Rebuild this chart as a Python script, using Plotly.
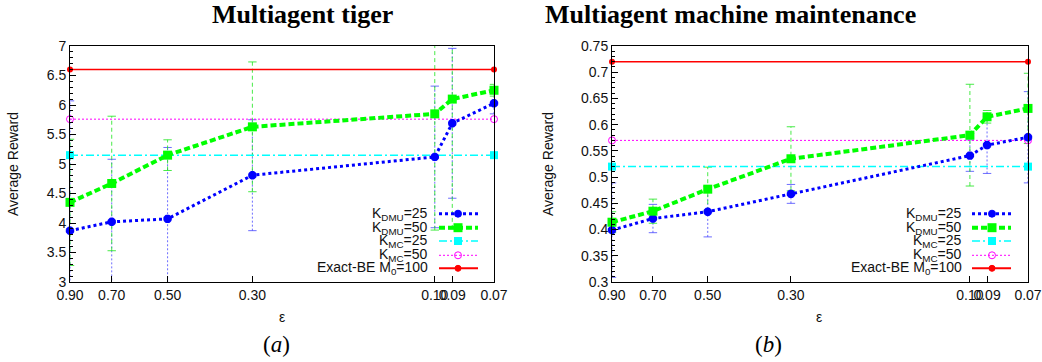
import math
import plotly.graph_objects as go

# ---------------- data ----------------
eps = [0.90, 0.70, 0.50, 0.30, 0.10, 0.09, 0.07]
eps_labels = ["0.90", "0.70", "0.50", "0.30", "0.10", "0.09", "0.07"]

tiger_dmu25 = [3.87, 4.02, 4.07, 4.81, 5.12, 5.69, 6.03]
tiger_dmu25_err = [2.20, 1.06, 1.21, 0.94, 1.20, 1.27, 0.18]
tiger_dmu50 = [4.35, 4.67, 5.15, 5.63, 5.85, 6.10, 6.25]
tiger_dmu50_err = [1.07, 1.14, 0.26, 1.10, 1.97, 2.20, 0.10]
tiger_mc25 = 5.15
tiger_mc50 = 5.76
tiger_exact = 6.60

mm_dmu25 = [0.399, 0.421, 0.434, 0.468, 0.541, 0.561, 0.576]
mm_dmu25_err = [0.090, 0.027, 0.048, 0.018, 0.030, 0.054, 0.087]
mm_dmu50 = [0.414, 0.435, 0.477, 0.535, 0.580, 0.615, 0.631]
mm_dmu50_err = [0.020, 0.023, 0.042, 0.061, 0.097, 0.012, 0.067]
mm_mc25 = 0.52
mm_mc50 = 0.57
mm_exact = 0.72

tiger_yticks = [3, 3.5, 4, 4.5, 5, 5.5, 6, 6.5, 7]
tiger_ytext = ["3", "3.5", "4", "4.5", "5", "5.5", "6", "6.5", "7"]
mm_yticks = [0.3, 0.35, 0.4, 0.45, 0.5, 0.55, 0.6, 0.65, 0.7, 0.75]
mm_ytext = ["0.3", "0.35", "0.4", "0.45", "0.5", "0.55", "0.6", "0.65", "0.7", "0.75"]

legend_labels = ["K<sub>DMU</sub>=25", "K<sub>DMU</sub>=50", "K<sub>MC</sub>=25",
                 "K<sub>MC</sub>=50", "Exact-BE M<sub>0</sub>=100"]
titles = ["<b>Multiagent tiger</b>", "<b>Multiagent machine maintenance</b>"]
captions = ["(<i>a</i>)", "(<i>b</i>)"]

# ---------------- geometry ----------------
W, H = 1042, 362
def px(x):
    return x / W
def py(y):
    return 1 - y / H

BLUE = "#0000ff"
GREEN = "#00ff00"
CYAN = "#00ffff"
MAGENTA = "#ff00ff"
RED = "#ff0000"
SANS = "Liberation Sans"
SERIF = "Liberation Serif"
FS = 14

fig = go.Figure()

def err_segments(xs, ys, es):
    X, Y = [], []
    for x, y, e in zip(xs, ys, es):
        X += [x, x, None]
        Y += [y - e, y + e, None]
    return X, Y

def add_panel(xa, ya, d25, e25, d50, e50, mc25, mc50, exact):
    # error bars
    X, Y = err_segments(eps, d25, e25)
    fig.add_trace(go.Scatter(x=X, y=Y, xaxis=xa, yaxis=ya, mode="lines+markers",
                             line=dict(color="rgba(60,60,255,0.75)", width=1, dash="2px,2px"),
                             marker=dict(symbol="line-ew-open", size=6,
                                         line=dict(color="rgba(60,60,255,0.75)", width=1)),
                             showlegend=False, hoverinfo="skip"))
    X, Y = err_segments(eps, d50, e50)
    fig.add_trace(go.Scatter(x=X, y=Y, xaxis=xa, yaxis=ya, mode="lines+markers",
                             line=dict(color="rgba(40,230,40,0.85)", width=1, dash="4px,3px"),
                             marker=dict(symbol="line-ew-open", size=6,
                                         line=dict(color="rgba(40,230,40,0.85)", width=1)),
                             showlegend=False, hoverinfo="skip"))
    ends = [eps[0], eps[-1]]
    # horizontal reference lines
    fig.add_trace(go.Scatter(x=ends, y=[mc25, mc25], xaxis=xa, yaxis=ya, mode="lines+markers",
                             line=dict(color=CYAN, width=1.5, dash="8px,3px,2px,3px"),
                             marker=dict(symbol="square", size=8, color=CYAN),
                             cliponaxis=False, showlegend=False))
    fig.add_trace(go.Scatter(x=ends, y=[mc50, mc50], xaxis=xa, yaxis=ya, mode="lines+markers",
                             line=dict(color=MAGENTA, width=1, dash="2px,2px"),
                             marker=dict(symbol="circle-open", size=7, color=MAGENTA,
                                         line=dict(width=1, color=MAGENTA)),
                             cliponaxis=False, showlegend=False))
    fig.add_trace(go.Scatter(x=ends, y=[exact, exact], xaxis=xa, yaxis=ya, mode="lines+markers",
                             line=dict(color=RED, width=1.5),
                             marker=dict(symbol="circle", size=6, color=RED),
                             cliponaxis=False, showlegend=False))
    # main series
    fig.add_trace(go.Scatter(x=eps, y=d25, xaxis=xa, yaxis=ya, mode="lines+markers",
                             line=dict(color=BLUE, width=3, dash="3px,3px"),
                             marker=dict(symbol="asterisk-open", size=7,
                                         line=dict(color=BLUE, width=3)),
                             cliponaxis=False, showlegend=False))
    fig.add_trace(go.Scatter(x=eps, y=d50, xaxis=xa, yaxis=ya, mode="lines+markers",
                             line=dict(color=GREEN, width=4, dash="6px,3px"),
                             marker=dict(symbol="square", size=9, color=GREEN),
                             cliponaxis=False, showlegend=False))

add_panel("x", "y", tiger_dmu25, tiger_dmu25_err, tiger_dmu50, tiger_dmu50_err,
          tiger_mc25, tiger_mc50, tiger_exact)
add_panel("x2", "y2", mm_dmu25, mm_dmu25_err, mm_dmu50, mm_dmu50_err,
          mm_mc25, mm_mc50, mm_exact)

xrange_log = [math.log10(eps[0]), math.log10(eps[-1])]

def xaxis(domain, anchor):
    return dict(domain=domain, anchor=anchor, type="log", range=xrange_log,
                tickvals=eps, ticktext=eps_labels, tickangle=0, ticks="inside", ticklen=6,
                tickcolor="black", showline=True, linecolor="black", linewidth=1,
                mirror=True, showgrid=False, zeroline=False, automargin=False,
                tickfont=dict(family=SANS, size=FS, color="#111"))

def yaxis(domain, anchor, rng, tv, tt, minor_dtick):
    return dict(domain=domain, anchor=anchor, range=rng, tickvals=tv, ticktext=tt,
                ticks="inside", ticklen=6, tickcolor="black", automargin=False,
                minor=dict(dtick=minor_dtick, ticks="inside", ticklen=3, tickcolor="black",
                           showgrid=False),
                showline=True, linecolor="black", linewidth=1, mirror=True,
                showgrid=False, zeroline=False,
                tickfont=dict(family=SANS, size=FS, color="#111"))

ydom = [py(282), py(46)]
annotations = []
shapes = []

panels = [
    dict(title_x=302, cap_x=276, eps_x=282, ylab_x=13,
         leg_text_x=430, leg_line=(439, 478), leg_mark=458),
    dict(title_x=730, cap_x=768, eps_x=819, ylab_x=548,
         leg_text_x=964, leg_line=(972, 1011), leg_mark=992),
]

for i, p in enumerate(panels):
    annotations.append(dict(x=px(p["title_x"]), y=py(14), xref="paper", yref="paper",
                            text=titles[i], showarrow=False, xanchor="center", yanchor="middle",
                            font=dict(family=SERIF, size=26, color="black")))
    annotations.append(dict(x=px(p["cap_x"]), y=py(344), xref="paper", yref="paper",
                            text=captions[i], showarrow=False, xanchor="center", yanchor="middle",
                            font=dict(family=SERIF, size=23, color="black")))
    annotations.append(dict(x=px(p["eps_x"]), y=py(317), xref="paper", yref="paper",
                            text="ε", showarrow=False, xanchor="center", yanchor="middle",
                            font=dict(family=SANS, size=FS, color="#111")))
    annotations.append(dict(x=px(p["ylab_x"]), y=py(164), xref="paper", yref="paper",
                            text="Average Reward", showarrow=False, textangle=-90,
                            xanchor="center", yanchor="middle",
                            font=dict(family=SANS, size=FS, color="#111")))
    rows = [213.7, 227.7, 241.0, 255.3, 268.3]
    styles = [
        dict(color=BLUE, width=3, dash="3px,3px"),
        dict(color=GREEN, width=4, dash="6px,3px"),
        dict(color=CYAN, width=1.5, dash="8px,3px,2px,3px"),
        dict(color=MAGENTA, width=1, dash="2px,2px"),
        dict(color=RED, width=2),
    ]
    for j, ry in enumerate(rows):
        annotations.append(dict(x=px(p["leg_text_x"]), y=py(ry), xref="paper", yref="paper",
                                text=legend_labels[j], showarrow=False, xanchor="right",
                                yanchor="middle",
                                font=dict(family=SANS, size=FS, color="#111")))
        lx0, lx1 = p["leg_line"]
        shapes.append(dict(type="line", xref="paper", yref="paper",
                           x0=px(lx0), x1=px(lx1), y0=py(ry), y1=py(ry), line=styles[j]))
        mx = p["leg_mark"]
        if j == 0:
            r = 3.5
            shapes.append(dict(type="circle", xref="paper", yref="paper",
                               x0=px(mx - r), x1=px(mx + r), y0=py(ry + r), y1=py(ry - r),
                               fillcolor=BLUE, line=dict(color=BLUE, width=1)))
        elif j == 1:
            r = 4.5
            shapes.append(dict(type="rect", xref="paper", yref="paper",
                               x0=px(mx - r), x1=px(mx + r), y0=py(ry + r), y1=py(ry - r),
                               fillcolor=GREEN, line=dict(color=GREEN, width=0)))
        elif j == 2:
            r = 4
            shapes.append(dict(type="rect", xref="paper", yref="paper",
                               x0=px(mx - r), x1=px(mx + r), y0=py(ry + r), y1=py(ry - r),
                               fillcolor=CYAN, line=dict(color=CYAN, width=0)))
        elif j == 3:
            r = 3.5
            shapes.append(dict(type="circle", xref="paper", yref="paper",
                               x0=px(mx - r), x1=px(mx + r), y0=py(ry + r), y1=py(ry - r),
                               fillcolor="rgba(0,0,0,0)", line=dict(color=MAGENTA, width=1)))
        else:
            r = 3
            shapes.append(dict(type="circle", xref="paper", yref="paper",
                               x0=px(mx - r), x1=px(mx + r), y0=py(ry + r), y1=py(ry - r),
                               fillcolor=RED, line=dict(color=RED, width=1)))

fig.update_layout(
    width=W, height=H,
    margin=dict(l=0, r=0, t=0, b=0, autoexpand=False),
    paper_bgcolor="white", plot_bgcolor="white",
    showlegend=False,
    xaxis=xaxis([px(70), px(494)], "y"),
    yaxis=yaxis(ydom, "x", [3, 7], tiger_yticks, tiger_ytext, 0.1),
    xaxis2=xaxis([px(612), px(1028)], "y2"),
    yaxis2=yaxis(ydom, "x2", [0.3, 0.75], mm_yticks, mm_ytext, 0.01),
    annotations=annotations,
    shapes=shapes,
)

# remove the default page margin so the 1042x362 figure fills the window exactly
fig.write_html("out.html",
               config={"displayModeBar": False, "staticPlot": True},
               post_script="document.body.style.margin='0';document.body.style.overflow='hidden';")
